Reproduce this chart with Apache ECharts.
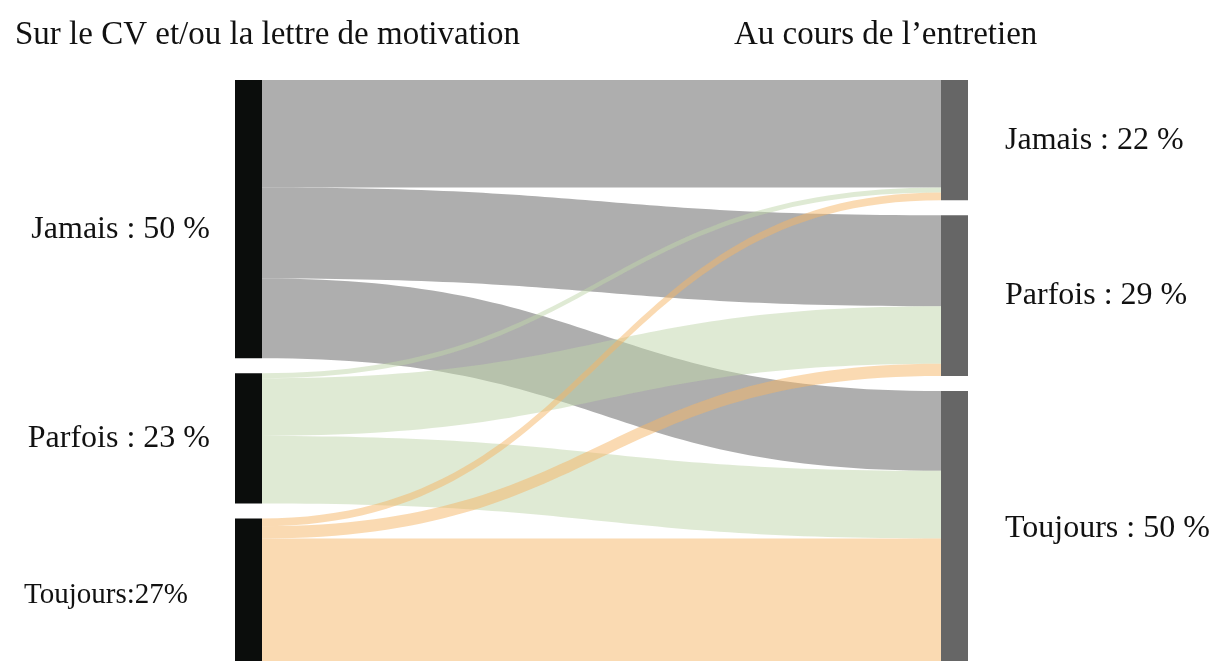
<!DOCTYPE html>
<html>
<head>
<meta charset="utf-8">
<script src="https://cdn.jsdelivr.net/npm/echarts@6/dist/echarts.min.js"></script>
<style>
  html, body { margin: 0; padding: 0; background: #fff; }
  #chart { width: 1216px; height: 661px; }
</style>
</head>
<body>
<div id="chart"></div>
<script>
// categories and values (percentages)
var categories = ['Jamais', 'Parfois', 'Toujours'];
var leftLabels = ['Jamais : 50 %', 'Parfois : 23 %', 'Toujours:27%'];
var rightLabels = ['Jamais : 22 %', 'Parfois : 29 %', 'Toujours : 50 %'];
// flows[source][target]
var flows = [
    [19.4, 16.4, 14.4],
    [0.9, 10.4, 12.2],
    [1.4, 2.2, 23.0]
];
var linkColors = ['rgba(120,120,120,0.6)', 'rgba(191,213,169,0.5)', 'rgba(245,181,101,0.5)'];

var serif = '"Liberation Serif", "DejaVu Serif", serif';

var nodes = [];
var links = [];
categories.forEach(function(c, i) {
    var lbl = { position: 'left', distance: 25, formatter: leftLabels[i] };
    if (i === 0) lbl.offset = [0, 10];
    if (i === 2) { lbl.fontSize = 29; lbl.distance = 47; lbl.offset = [0, 3]; }
    nodes.push({
        name: 'L-' + c,
        depth: 0,
        itemStyle: { color: '#0b0d0c' },
        label: lbl
    });
});
categories.forEach(function(c, i) {
    nodes.push({
        name: 'R-' + c,
        depth: 1,
        itemStyle: { color: '#666666' },
        label: { position: 'right', distance: 37, formatter: rightLabels[i] }
    });
});
flows.forEach(function(row, s) {
    row.forEach(function(v, t) {
        links.push({
            source: 'L-' + categories[s],
            target: 'R-' + categories[t],
            value: v,
            lineStyle: { color: linkColors[s], opacity: 1 }
        });
    });
});

var myChart = echarts.init(document.getElementById('chart'));
var option = {
    animation: false,
    title: [
        { text: 'Sur le CV et/ou la lettre de motivation', left: 10, top: 14,
          textStyle: { fontFamily: serif, fontWeight: 'normal', fontSize: 33, color: '#111' } },
        { text: 'Au cours de l\u2019entretien', left: 729, top: 14,
          textStyle: { fontFamily: serif, fontWeight: 'normal', fontSize: 33, color: '#111' } }
    ],
    series: [{
        type: 'sankey',
        left: 235,
        right: 248,
        top: 80,
        bottom: -5,
        nodeWidth: 27,
        nodeGap: 15,
        layoutIterations: 0,
        draggable: false,
        emphasis: { disabled: true },
        label: { fontFamily: serif, fontSize: 32, color: '#111' },
        lineStyle: { curveness: 0.5 },
        data: nodes,
        links: links
    }]
};
myChart.setOption(option);
</script>
</body>
</html>
